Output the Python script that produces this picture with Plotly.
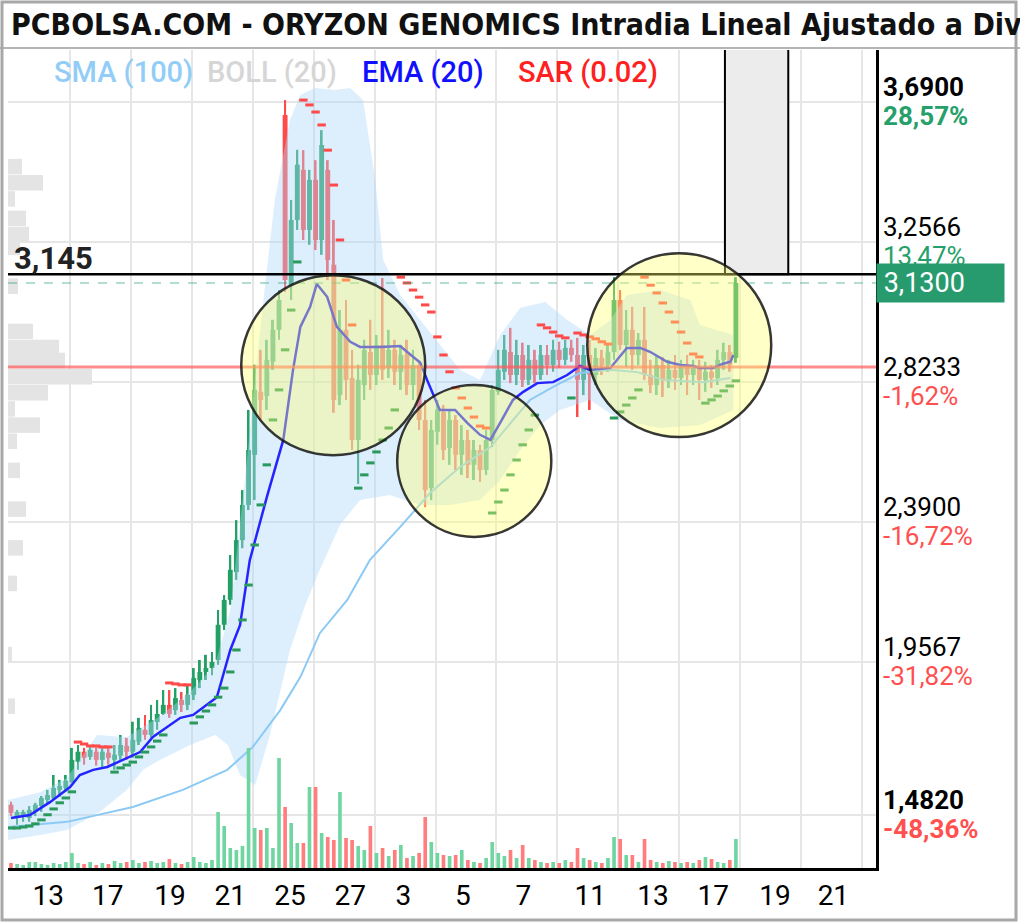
import plotly.graph_objects as go

# ---------------- DATA ----------------
opens = [1.515, 1.474, 1.480, 1.474, 1.493, 1.511, 1.530, 1.536, 1.561, 1.567,
         1.586, 1.648, 1.679, 1.663, 1.679, 1.654, 1.676, 1.654, 1.667, 1.697,
         1.679, 1.710, 1.747, 1.731, 1.771, 1.796, 1.824, 1.808, 1.839, 1.824,
         1.855, 1.901, 1.926, 1.938, 1.963, 2.072, 2.149, 2.235, 2.334, 2.443,
         2.598, 2.793, 2.780, 2.886, 2.985, 3.650, 3.123, 3.325, 3.480, 3.294,
         3.449, 3.263, 3.480, 3.186, 2.783, 2.985, 2.836, 2.644, 2.814, 2.916,
         2.845, 2.938, 2.867, 2.923, 2.855, 2.907, 2.814, 2.876, 2.706, 2.495,
         2.669, 2.731, 2.619, 2.706, 2.598, 2.644, 2.567, 2.613, 2.551, 2.644,
         2.793, 2.855, 2.916, 2.845, 2.907, 2.830, 2.892, 2.845, 2.907, 2.876,
         2.923, 2.892, 2.929, 2.907, 2.830, 2.907, 2.845, 2.898, 2.876, 2.916,
         3.077, 2.938, 2.985, 2.907, 2.954, 2.845, 2.814, 2.876, 2.830, 2.861,
         2.836, 2.876, 2.845, 2.867, 2.830, 2.855, 2.836, 2.892, 2.916, 2.898]
highs = [1.524, 1.499, 1.499, 1.511, 1.521, 1.542, 1.561, 1.607, 1.592, 1.607,
         1.691, 1.700, 1.691, 1.694, 1.694, 1.691, 1.691, 1.700, 1.731, 1.722,
         1.772, 1.784, 1.793, 1.824, 1.839, 1.870, 1.870, 1.876, 1.864, 1.883,
         1.938, 1.963, 1.979, 1.988, 2.118, 2.164, 2.288, 2.396, 2.489, 2.737,
         2.877, 2.923, 2.954, 3.016, 3.108, 3.696, 3.387, 3.542, 3.541, 3.480,
         3.510, 3.603, 3.510, 3.325, 3.046, 3.077, 2.923, 2.877, 2.954, 3.016,
         2.969, 3.145, 2.985, 2.954, 2.938, 2.954, 2.923, 2.892, 2.768, 2.706,
         2.768, 2.752, 2.737, 2.721, 2.690, 2.675, 2.644, 2.629, 2.675, 2.814,
         2.923, 2.969, 2.991, 2.954, 2.945, 2.938, 2.923, 2.938, 2.938, 2.954,
         2.948, 2.954, 2.954, 2.960, 2.938, 2.954, 2.929, 2.923, 2.938, 3.148,
         3.108, 3.046, 3.056, 2.975, 3.056, 2.892, 2.907, 2.901, 2.892, 2.907,
         2.892, 2.907, 2.892, 2.892, 2.886, 2.876, 2.923, 2.945, 2.938, 3.148]
lows = [1.480, 1.453, 1.462, 1.462, 1.480, 1.493, 1.518, 1.530, 1.539, 1.555,
        1.583, 1.623, 1.639, 1.654, 1.636, 1.629, 1.639, 1.623, 1.654, 1.654,
        1.660, 1.700, 1.716, 1.722, 1.747, 1.793, 1.784, 1.793, 1.802, 1.808,
        1.839, 1.876, 1.901, 1.916, 1.948, 2.056, 2.134, 2.211, 2.309, 2.427,
        2.458, 2.706, 2.737, 2.861, 2.954, 3.102, 3.077, 3.294, 3.263, 3.248,
        3.232, 3.217, 3.139, 2.728, 2.752, 2.768, 2.613, 2.508, 2.768, 2.799,
        2.814, 2.830, 2.836, 2.814, 2.799, 2.783, 2.768, 2.675, 2.436, 2.458,
        2.629, 2.582, 2.567, 2.551, 2.536, 2.526, 2.520, 2.514, 2.536, 2.622,
        2.783, 2.830, 2.820, 2.814, 2.808, 2.814, 2.820, 2.830, 2.845, 2.855,
        2.867, 2.876, 2.886, 2.715, 2.783, 2.737, 2.814, 2.845, 2.855, 2.892,
        2.923, 2.870, 2.861, 2.876, 2.830, 2.789, 2.783, 2.777, 2.805, 2.799,
        2.814, 2.783, 2.814, 2.768, 2.793, 2.805, 2.814, 2.861, 2.855, 2.883]
closes = [1.490, 1.493, 1.493, 1.499, 1.515, 1.536, 1.545, 1.567, 1.573, 1.589,
          1.654, 1.679, 1.660, 1.685, 1.654, 1.679, 1.660, 1.670, 1.700, 1.679,
          1.716, 1.753, 1.731, 1.777, 1.796, 1.824, 1.796, 1.845, 1.824, 1.855,
          1.907, 1.926, 1.938, 1.957, 2.072, 2.149, 2.242, 2.334, 2.443, 2.613,
          2.799, 2.768, 2.892, 2.985, 3.077, 3.139, 3.325, 3.496, 3.294, 3.449,
          3.263, 3.557, 3.201, 2.768, 2.985, 2.830, 2.644, 2.830, 2.923, 2.845,
          2.938, 2.861, 2.923, 2.855, 2.907, 2.814, 2.876, 2.706, 2.489, 2.675,
          2.737, 2.613, 2.706, 2.598, 2.644, 2.567, 2.613, 2.551, 2.644, 2.799,
          2.861, 2.923, 2.845, 2.907, 2.830, 2.892, 2.845, 2.907, 2.876, 2.923,
          2.892, 2.929, 2.907, 2.830, 2.907, 2.845, 2.898, 2.876, 2.916, 3.077,
          2.938, 2.985, 2.907, 2.954, 2.845, 2.814, 2.876, 2.830, 2.861, 2.836,
          2.876, 2.845, 2.867, 2.830, 2.855, 2.836, 2.892, 2.916, 2.876, 3.130]
volumes = [5, 4, 3, 6, 6, 4, 3, 5, 4, 6,
           15, 5, 4, 6, 3, 5, 4, 7, 5, 6,
           8, 5, 6, 7, 5, 6, 9, 5, 4, 6,
           11, 6, 5, 8, 56, 42, 20, 18, 22, 120,
           40, 38, 40, 20, 110, 61, 45, 25, 25, 81,
           81, 35, 31, 28, 76, 30, 28, 22, 18, 42,
           15, 20, 12, 18, 23, 10, 12, 15, 51, 26,
           15, 13, 12, 13, 18, 8, 6, 5, 10, 26,
           15, 12, 18, 10, 23, 10, 8, 6, 5, 6,
           5, 8, 6, 20, 10, 8, 6, 5, 10, 31,
           29, 13, 13, 6, 29, 8, 6, 5, 7, 6,
           5, 6, 5, 8, 11, 9, 6, 5, 8, 29]
sar = [1.443, 1.443, 1.446, 1.449, 1.456, 1.468, 1.484, 1.502, 1.521, 1.536,
       1.555, 1.709, 1.703, 1.697, 1.697, 1.694, 1.694, 1.616, 1.629, 1.638,
       1.647, 1.663, 1.678, 1.694, 1.712, 1.731, 1.892, 1.889, 1.886, 1.886,
       1.768, 1.787, 1.805, 1.824, 1.848, 1.876, 1.926, 1.994, 2.087, 2.195,
       2.319, 2.443, 2.567, 2.706, 2.799, 2.923, 3.046, 3.195, 3.696, 3.681,
       3.659, 3.619, 3.541, 3.433, 3.263, 3.139, 3.000, 2.495, 2.536, 2.573,
       2.607, 2.644, 2.681, 2.737, 3.148, 3.130, 3.108, 3.086, 3.062, 3.040,
       2.963, 2.907, 2.855, 2.805, 2.774, 2.743, 2.715, 2.687, 2.681, 2.418,
       2.452, 2.489, 2.536, 2.582, 2.629, 2.675, 2.721, 3.000, 2.991, 2.978,
       2.966, 2.960, 2.774, 2.975, 2.969, 2.963, 2.957, 2.948, 2.941, 2.712,
       2.731, 2.752, 2.774, 2.799, 3.148, 3.123, 3.099, 3.068, 3.040, 3.009,
       2.978, 2.944, 2.910, 2.901, 2.758, 2.768, 2.780, 2.796, 2.811, 2.827]

ema_x = [0, 3.1, 6.4, 9.7, 11.3, 13.5, 15.8, 19.0, 21.2, 23.3, 25.6, 27.8, 29.9, 32.2, 33.8,
         34.6, 36.0, 37.6, 39.2, 42.0, 44.7, 46.3, 47.5, 49.1, 50.2, 51.9, 53.5, 55.7, 57.3, 60.6,
         63.9, 65.0, 67.2, 68.3, 70.4, 72.9, 74.9, 77.0, 78.7, 80.3, 82.4, 84.1, 86.4, 89.0, 91.3,
         93.4, 95.1, 98.4, 101.1, 103.3, 104.9, 107.7, 109.9, 112.0, 113.1, 115.3, 116.9, 118.1, 118.6]
ema_y = [1.474, 1.483, 1.523, 1.570, 1.607, 1.623, 1.632, 1.660, 1.678, 1.725, 1.756, 1.784, 1.793, 1.824, 1.848,
         1.901, 1.994, 2.071, 2.272, 2.467, 2.644, 2.861, 2.994, 3.056, 3.127, 3.087, 2.994, 2.948, 2.932, 2.932,
         2.935, 2.917, 2.883, 2.830, 2.737, 2.737, 2.697, 2.660, 2.644, 2.697, 2.768, 2.793, 2.820, 2.823, 2.845,
         2.873, 2.861, 2.867, 2.929, 2.929, 2.917, 2.886, 2.876, 2.873, 2.867, 2.867, 2.880, 2.886, 2.907]

sma_x = [-0.5, 9.2, 20.0, 28.2, 35.5, 39.7, 44.2, 47.5, 50.7, 55.2, 58.9, 63.9,
         68.8, 73.7, 78.7, 82.4, 85.2, 89.0, 93.4, 98.4, 102.8, 107.1, 113.6, 118.1]
sma_y = [1.446, 1.462, 1.508, 1.561, 1.623, 1.694, 1.808, 1.910, 2.046, 2.149, 2.272, 2.375,
         2.480, 2.560, 2.622, 2.706, 2.768, 2.808, 2.851, 2.861, 2.854, 2.830, 2.823, 2.836]

bb_up_x = [-0.5, 4.8, 9.2, 14.1, 19.0, 24.5, 29.4, 33.5, 36.0, 38.4, 40.9, 43.3, 45.8, 47.5, 49.9, 53.2, 55.7, 57.8,
           59.8, 61.1, 63.9, 67.2, 70.4, 73.7, 77.0, 80.3, 83.6, 87.7, 91.3, 95.1, 98.4, 101.1, 106.6, 111.5, 113.1, 118.6]
bb_up_y = [1.530, 1.554, 1.598, 1.731, 1.724, 1.790, 1.864, 1.948, 2.118, 2.520, 2.984, 3.387, 3.634, 3.712, 3.733, 3.727, 3.733, 3.696,
           3.449, 3.201, 3.093, 3.015, 2.938, 2.861, 2.830, 2.969, 3.053, 3.071, 3.015, 2.969, 3.015, 3.093, 3.108, 3.077, 3.000, 2.969]
bb_lo_x = [-0.5, 4.8, 9.2, 14.6, 19.0, 21.7, 24.5, 29.4, 33.5, 35.6, 37.6, 40.1, 42.5, 45.8, 48.3, 50.7,
           54.0, 57.3, 62.2, 67.2, 72.1, 77.0, 80.3, 83.6, 86.9, 90.1, 95.1, 100.0, 106.6, 113.1, 118.6]
bb_lo_y = [1.406, 1.421, 1.437, 1.493, 1.561, 1.623, 1.654, 1.700, 1.731, 1.700, 1.607, 1.576, 1.731, 1.994, 2.133, 2.242,
           2.381, 2.458, 2.474, 2.443, 2.443, 2.458, 2.520, 2.613, 2.690, 2.737, 2.768, 2.706, 2.681, 2.690, 2.737]

prof_price = [3.49, 3.44, 3.39, 3.33, 3.28, 3.24, 3.12, 2.98, 2.93, 2.89, 2.84,
              2.79, 2.74, 2.69, 2.64, 2.55, 2.43, 2.31, 2.20, 1.98, 1.82]
prof_vol = [14, 35, 7, 18, 21, 12, 10, 25, 51, 57, 84, 40, 7, 32, 9, 12, 18, 15, 9, 4, 7]

tick_text = ['13', '17', '19', '21', '25', '27', '3', '5', '7', '11', '13', '17', '19', '21']
tick_pos = [6.1, 15.9, 26.1, 36.0, 45.8, 55.7, 64.4, 74.2, 84.1, 95.1, 105.4, 115.3, 125.4, 135.0]
grid_x = [9.7, 19.7, 29.7, 39.7, 49.7, 59.7, 69.7, 79.7, 89.7, 99.7, 109.7, 119.7, 129.7, 139.7]

grid_prices = [3.69, 3.2566, 2.8233, 2.39, 1.9567, 1.482]
price_labels = ['3,6900', '3,2566', '2,8233', '2,3900', '1,9567', '1,4820']
pct_labels = ['28,57%', '13,47%', '-1,62%', '-16,72%', '-31,82%', '-48,36%']
bold_flags = [True, False, False, False, False, True]

last_price = 3.13
last_label = '3,1300'
ref_price = 2.87
level_price = 3.157
level_label = '3,145'
circles = [(37.8, 68.0, 2.597, 3.154), (63.4, 88.7, 2.344, 2.814), (94.6, 124.8, 2.653, 3.222)]
gray_box = (117.2, 127.6)

# ---------------- FIGURE ----------------
W, H = 1020, 924
ML, MR, MT, MB = 8, 144, 50, 56
PW, PH = W - ML - MR, H - MT - MB
YR = [1.3192, 3.8510]
XR = [-0.49, 142.0]


def pxx(px):
    return (px - ML) / PW


def pxy(py):
    return (H - MB - py) / PH


GREEN = '#23a065'
RED = '#ff4a4a'
n = len(closes)
assert all(len(a) == n for a in (opens, highs, lows, volumes, sar))
idx = list(range(n))

fig = go.Figure()

# Bollinger band fill
fig.add_trace(go.Scatter(x=bb_up_x + bb_lo_x[::-1], y=bb_up_y + bb_lo_y[::-1], fill='toself',
                         fillcolor='rgba(175,215,247,0.42)', line=dict(width=0), mode='lines',
                         hoverinfo='skip'))
# SMA 100
fig.add_trace(go.Scatter(x=sma_x, y=sma_y, mode='lines', line=dict(color='#8ccaf5', width=2)))

# candles: wicks + bodies as bars
ccol = [GREEN if c >= o else RED for o, c in zip(opens, closes)]
fig.add_trace(go.Bar(x=idx, y=[h - l for h, l in zip(highs, lows)], base=lows, width=0.32,
                     marker=dict(color=ccol, line_width=0)))
body_base = [min(o, c) for o, c in zip(opens, closes)]
body_h = [max(abs(c - o), 0.006) for o, c in zip(opens, closes)]
fig.add_trace(go.Bar(x=idx, y=body_h, base=body_base, width=0.8,
                     marker=dict(color=ccol, line_width=0)))

# EMA 20
fig.add_trace(go.Scatter(x=ema_x, y=ema_y, mode='lines', line=dict(color='#2424ff', width=2.5)))
# SAR
sar_col = ['#ff4a4a' if s > c else '#2a9a5c' for s, c in zip(sar, closes)]
fig.add_trace(go.Scatter(x=idx, y=sar, mode='markers',
                         marker=dict(symbol='line-ew', size=6, line=dict(width=3, color=sar_col))))
# volume
vol_col = ['#6fd6a2' if c >= o else '#ff7d7d' for o, c in zip(opens, closes)]
fig.add_trace(go.Bar(x=idx, y=volumes, yaxis='y2', marker=dict(color=vol_col, line_width=0), width=0.6))
# volume profile
fig.add_trace(go.Bar(x=prof_vol, y=prof_price, orientation='h', xaxis='x3', yaxis='y', width=0.048,
                     marker=dict(color='#e4e4e4', line_width=0)))

shapes = []
shapes.append(dict(type='line', xref='paper', yref='y', x0=0, x1=1, y0=ref_price, y1=ref_price,
                   line=dict(color='rgba(255,90,90,0.7)', width=3), layer='above'))
shapes.append(dict(type='line', xref='paper', yref='y', x0=0, x1=1, y0=last_price, y1=last_price,
                   line=dict(color='rgba(40,160,110,0.35)', width=2, dash='dash'), layer='above'))
shapes.append(dict(type='rect', xref='x', yref='y', x0=gray_box[0], x1=gray_box[1], y0=level_price, y1=YR[1] + 0.02,
                   fillcolor='#ececec', line=dict(color='black', width=2), layer='above'))
shapes.append(dict(type='line', xref='paper', yref='y', x0=0, x1=1, y0=level_price, y1=level_price,
                   line=dict(color='black', width=2.5), layer='above'))
for x0, x1, y0, y1 in circles:
    shapes.append(dict(type='circle', xref='x', yref='y', x0=x0, x1=x1, y0=y0, y1=y1,
                       fillcolor='rgba(255,255,110,0.38)', line=dict(color='rgba(20,20,20,0.85)', width=2.5),
                       layer='above'))
shapes.append(dict(type='line', xref='paper', yref='paper', x0=pxx(0), x1=pxx(W), y0=pxy(48), y1=pxy(48),
                   line=dict(color='#b4b4b4', width=2)))
shapes.append(dict(type='rect', xref='paper', yref='paper', x0=pxx(2), x1=pxx(1016), y0=pxy(2), y1=pxy(920),
                   line=dict(color='#a8a8a8', width=3)))

ann = []
ann.append(dict(xref='paper', yref='paper', x=pxx(9), y=pxy(25), xanchor='left', yanchor='middle', showarrow=False,
                text='<b>PCBOLSA.COM - ORYZON GENOMICS Intradia Lineal Ajustado a Div</b>',
                font=dict(family='DejaVu Sans Condensed, DejaVu Sans', size=30, color='#111')))
for txt, xp, col in [('SMA (100)', 52, '#92cdf7'), ('BOLL (20)', 205, '#d6d6d6'),
                     ('EMA (20)', 360, '#1010ff'), ('SAR (0.02)', 516, '#ff2020')]:
    ann.append(dict(xref='paper', yref='paper', x=pxx(xp), y=pxy(72), xanchor='left', yanchor='middle',
                    showarrow=False, text=txt, font=dict(family='Roboto', size=29, color=col, weight=500)))
ann.append(dict(xref='paper', yref='y', x=pxx(12), y=level_price, yshift=16, xanchor='left', yanchor='middle',
                showarrow=False, text='<b>%s</b>' % level_label, font=dict(family='Roboto', size=31, color='#222')))
for p, pl, pc, b in zip(grid_prices, price_labels, pct_labels, bold_flags):
    pcol = '#26a06a' if not pc.startswith('-') else '#ff5050'
    t1 = '<b>%s</b>' % pl if b else pl
    t2 = '<b>%s</b>' % pc if b else pc
    ann.append(dict(xref='paper', yref='y', x=1, xshift=5, y=p, yshift=15, xanchor='left', yanchor='middle',
                    showarrow=False, text=t1, font=dict(family='Roboto', size=26, color='black')))
    ann.append(dict(xref='paper', yref='y', x=1, xshift=5, y=p, yshift=-14, xanchor='left', yanchor='middle',
                    showarrow=False, text=t2, font=dict(family='Roboto', size=26, color=pcol)))
ann.append(dict(xref='paper', yref='y', x=1, y=last_price, xanchor='left', yanchor='middle', showarrow=False,
                text='&nbsp;' + last_label, bgcolor='#279b6e', width=127, height=38, align='left', borderpad=0,
                font=dict(family='Roboto', size=27, color='white')))

fig.update_layout(
    width=W, height=H, autosize=False,
    margin=dict(l=ML, r=MR, t=MT, b=MB, pad=0),
    paper_bgcolor='white', plot_bgcolor='white',
    showlegend=False, hovermode=False, barmode='overlay',
    xaxis=dict(range=XR, tickmode='array', tickvals=tick_pos, ticktext=tick_text, showgrid=False,
               minor=dict(tickmode='array', tickvals=grid_x, showgrid=True, gridcolor='#e6e6e6', gridwidth=2),
               showline=True, linecolor='black', linewidth=3, ticks='', zeroline=False,
               tickfont=dict(family='Roboto', size=28, color='black')),
    yaxis=dict(range=YR, side='right', tickmode='array', tickvals=grid_prices, showticklabels=False,
               showgrid=True, gridcolor='#e6e6e6', gridwidth=2, showline=True, linecolor='black',
               linewidth=3, ticks='', zeroline=False),
    yaxis2=dict(overlaying='y', range=[0, PH], visible=False),
    xaxis3=dict(overlaying='x', range=[0, PW], visible=False),
    shapes=shapes, annotations=ann,
)

fig.write_html('out.html')
